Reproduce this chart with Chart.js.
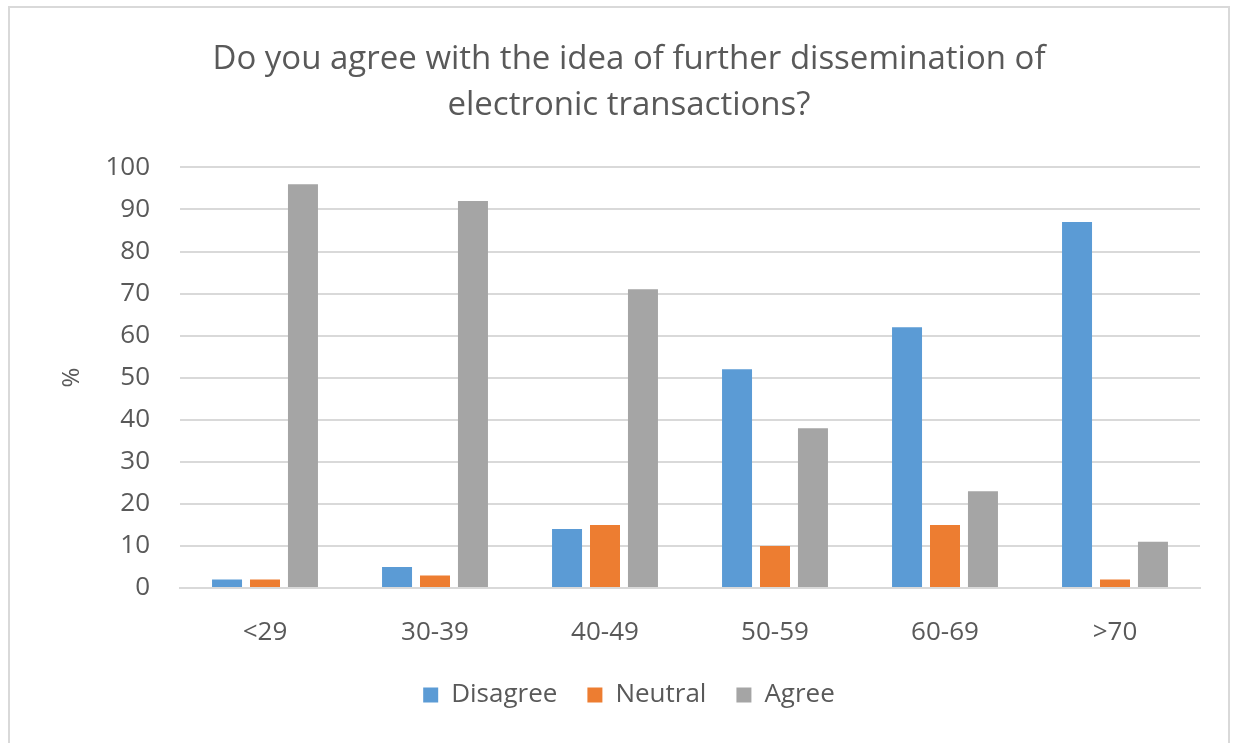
<!DOCTYPE html>
<html>
<head>
<meta charset="utf-8">
<script src="https://cdn.jsdelivr.net/npm/chart.js@4"></script>
<style>
  body { margin: 0; background: #fff; }
  #wrap { position: relative; width: 1240px; height: 743px; }
  #frame { position: absolute; left: 8px; top: 6px; width: 1222px; height: 745px; border: 2px solid #d9d9d9; box-sizing: border-box; }
  canvas { position: absolute; left: 0; top: 0; }
</style>
</head>
<body>
<div id="wrap">
  <div id="frame"></div>
  <canvas id="ageChart" width="1240" height="743"></canvas>
</div>
<script>
const ageGroups = ['<29', '30-39', '40-49', '50-59', '60-69', '>70'];
const disagree = [2, 5, 14, 52, 62, 87];
const neutral = [2, 3, 15, 10, 15, 2];
const agree = [96, 92, 71, 38, 23, 11];

document.addEventListener('DOMContentLoaded', function() {
    const font = "'Open Sans', 'Noto Sans', sans-serif";
    const textColor = '#595959';
    const ctx = document.getElementById('ageChart').getContext('2d');
    new Chart(ctx, {
        type: 'bar',
        data: {
            labels: ageGroups,
            datasets: [
                { label: 'Disagree', data: disagree, backgroundColor: '#5b9bd5' },
                { label: 'Neutral', data: neutral, backgroundColor: '#ed7d31' },
                { label: 'Agree', data: agree, backgroundColor: '#a5a5a5' }
            ]
        },
        options: {
            responsive: false,
            animation: false,
            categoryPercentage: 0.67,
            barPercentage: 0.79,
            layout: { padding: { left: 58, right: 40, top: 36, bottom: 25 } },
            plugins: {
                title: {
                    display: true,
                    text: ['Do you agree with the idea of further dissemination of', 'electronic transactions?'],
                    color: textColor,
                    font: { family: font, size: 33, weight: 'normal', lineHeight: 1.4 },
                    padding: { top: 0, bottom: 39 }
                },
                legend: {
                    position: 'bottom',
                    labels: {
                        color: textColor,
                        font: { family: font, size: 26 },
                        boxWidth: 15,
                        boxHeight: 15,
                        padding: 30
                    }
                },
                tooltip: { enabled: false }
            },
            scales: {
                x: {
                    grid: { display: false, drawTicks: false },
                    border: { color: '#d9d9d9', width: 2 },
                    ticks: { color: textColor, font: { family: font, size: 26 }, padding: 29 },
                    // chart.js reserves padding on both sides of the labels; keep only the top
                    afterFit: function(scale) { scale.height = 64; }
                },
                y: {
                    min: 0,
                    max: 100,
                    ticks: { stepSize: 10, color: textColor, font: { family: font, size: 26 }, padding: 30 },
                    grid: { color: '#d9d9d9', lineWidth: 2, drawTicks: false },
                    border: { display: false },
                    title: { display: true, text: '%', color: textColor, font: { family: font, size: 24 }, padding: 0 },
                    afterFit: function(scale) { scale.width = 122; }
                }
            }
        }
    });
});
</script>
</body>
</html>
